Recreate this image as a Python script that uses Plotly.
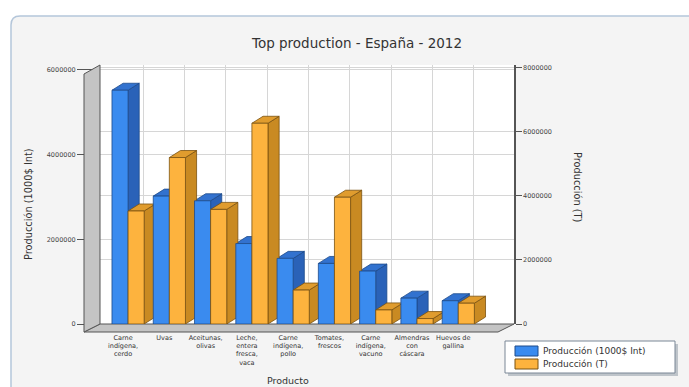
import plotly.graph_objects as go

productos = ["Carne<br>indígena,<br>cerdo", "Uvas", "Aceitunas,<br>olivas",
             "Leche,<br>entera<br>fresca,<br>vaca", "Carne<br>indígena,<br>pollo",
             "Tomates,<br>frescos", "Carne<br>indígena,<br>vacuno",
             "Almendras<br>con<br>cáscara", "Huevos de<br>gallina"]
valor_1000usd = [5520000, 3020000, 2910000, 1900000, 1550000, 1430000, 1250000, 610000, 550000]
toneladas = [3530000, 5200000, 3580000, 6270000, 1060000, 3960000, 440000, 170000, 650000]
left_ticks = [0, 2000000, 4000000, 6000000]
right_ticks = [0, 2000000, 4000000, 6000000, 8000000]
series_names = ["Producción (1000$ Int)", "Producción (T)"]

idx = list(range(len(productos)))

# layout geometry (pixels)
W, H = 689, 387
L, R, T, B = 100, 514, 65, 324
Y1MAX, Y2MAX = 6.116e6, 8.09e6
def px(x):
    return (x - L) / (R - L)
def py(y):
    return 1 - (y - T) / (B - T)

BLUE, BLUE_D, BLUE_T, BLUE_L = "#3a8bef", "#2a62b8", "#3272cf", "#1d4a8a"
ORG, ORG_D, ORG_T, ORG_L = "#fdb33e", "#c98a22", "#e09c2e", "#7a5210"
BW = 0.39
DX = 0.27

fig = go.Figure()
fig.add_trace(go.Bar(x=idx, y=valor_1000usd, name=series_names[0],
                     width=BW, offset=-BW, yaxis="y",
                     marker=dict(color=BLUE, line=dict(color=BLUE_L, width=0.8))))
fig.add_trace(go.Bar(x=idx, y=toneladas, name=series_names[1],
                     width=BW, offset=0, yaxis="y2",
                     marker=dict(color=ORG, line=dict(color=ORG_L, width=0.8))))

shapes = []
# panel background
x0p, y0p, x1p, y1p, r = 11, 16, 700, 400, 9
panel = (f"M {px(x0p)},{py(y0p + r)} Q {px(x0p)},{py(y0p)} {px(x0p + r)},{py(y0p)} "
         f"L {px(x1p)},{py(y0p)} L {px(x1p)},{py(y1p)} L {px(x0p)},{py(y1p)} Z")
shapes.append(dict(type="path", xref="paper", yref="paper", path=panel,
                   fillcolor="#f4f4f4", line=dict(color="#b4c6da", width=1.5), layer="below"))
# plot area back
shapes.append(dict(type="rect", xref="paper", yref="paper", x0=0, x1=1, y0=0, y1=1,
                   fillcolor="white", line=dict(width=0), layer="below"))
# left wall and floor
wall = f"M {px(84)},{py(74)} L {px(100)},{py(65)} L {px(100)},{py(324)} L {px(84)},{py(332)} Z"
shapes.append(dict(type="path", xref="paper", yref="paper", path=wall,
                   fillcolor="#c4c4c4", line=dict(color="#555", width=1), layer="above"))
floor = f"M {px(84)},{py(332)} L {px(100)},{py(324)} L {px(514)},{py(324)} L {px(498)},{py(332)} Z"
shapes.append(dict(type="path", xref="paper", yref="paper", path=floor,
                   fillcolor="#c4c4c4", line=dict(color="#555", width=1), layer="below"))

# legend box (drawn manually for compact spacing)
shapes.append(dict(type="rect", xref="paper", yref="paper",
                   x0=px(508), x1=px(678), y0=py(376), y1=py(344),
                   fillcolor="#9aa3ad", line=dict(width=0), layer="above", opacity=0.6))
shapes.append(dict(type="rect", xref="paper", yref="paper",
                   x0=px(505), x1=px(675), y0=py(373), y1=py(341),
                   fillcolor="white", line=dict(color="#7a8796", width=1), layer="above"))
for k, (c, lc) in enumerate([(BLUE, BLUE_L), (ORG, ORG_L)]):
    yc = 351 + 13 * k
    shapes.append(dict(type="rect", xref="paper", yref="paper",
                       x0=px(515), x1=px(538), y0=py(yc + 5), y1=py(yc - 5),
                       fillcolor=c, line=dict(color=lc, width=1), layer="above"))

# depth faces for the bars (orange values mapped onto the left-axis scale)
def faces(vals, x0off, side, top, edge):
    out = []
    dy = 7 / ((B - T) / Y1MAX)
    for i, v in enumerate(vals):
        a = i + x0off
        b = a + BW
        out.append(dict(type="path", xref="x", yref="y", layer="between",
                        path=f"M {b},0 L {b + DX},{dy} L {b + DX},{v + dy} L {b},{v} Z",
                        fillcolor=side, line=dict(color=edge, width=0.8)))
        out.append(dict(type="path", xref="x", yref="y", layer="between",
                        path=f"M {a},{v} L {a + DX},{v + dy} L {b + DX},{v + dy} L {b},{v} Z",
                        fillcolor=top, line=dict(color=edge, width=0.8)))
    return out

shapes += faces(valor_1000usd, -BW, BLUE_D, BLUE_T, BLUE_L)
shapes += faces([v * Y1MAX / Y2MAX for v in toneladas], 0, ORG_D, ORG_T, ORG_L)

font = "DejaVu Sans"
annotations = [
    dict(text="Producción (1000$ Int)", x=px(28), y=py(204), xref="paper", yref="paper",
         xanchor="center", yanchor="middle",
         textangle=-90, showarrow=False, font=dict(family=font, size=9.8, color="#333")),
    dict(text="Producción (T)", x=px(578), y=py(187), xref="paper", yref="paper",
         xanchor="center", yanchor="middle",
         textangle=90, showarrow=False, font=dict(family=font, size=9.8, color="#333")),
    dict(text="Producto", x=px(288), y=py(380), xref="paper", yref="paper",
         xanchor="center", yanchor="middle",
         showarrow=False, font=dict(family=font, size=9.5, color="#333")),
]
for k, nm in enumerate(series_names):
    annotations.append(dict(text=nm, x=px(541), y=py(351 + 13 * k), xref="paper", yref="paper",
                            xanchor="left", yanchor="middle", showarrow=False,
                            font=dict(family=font, size=9, color="#333")))

fig.update_layout(
    width=W, height=H,
    margin=dict(l=L, r=W - R, t=T, b=H - B, autoexpand=False),
    paper_bgcolor="white", plot_bgcolor="white",
    title=dict(text="Top production - España - 2012", x=357 / W, xanchor="center",
               y=1 - 43 / H, yanchor="middle",
               font=dict(family=font, size=13.5, color="#333")),
    showlegend=False,
    xaxis=dict(range=[-0.68, 9.35], tickvals=idx, ticktext=productos,
               showgrid=False, zeroline=False, showline=False, ticks="",
               tickfont=dict(family=font, size=6.5, color="#333"),
               ticklabelstandoff=8, ticklabelshift=-5,
               minor=dict(tickvals=[i + 0.37 for i in idx], showgrid=True,
                          gridcolor="#d6d6d6", gridwidth=1, ticks="")),
    yaxis=dict(range=[0, Y1MAX], tickvals=left_ticks, ticktext=[str(v) for v in left_ticks],
               showgrid=True, gridcolor="#d6d6d6", zeroline=False, showline=False,
               ticks="outside", ticklen=22, tickcolor="#555",
               tickfont=dict(family=font, size=6.5, color="#444")),
    yaxis2=dict(range=[0, Y2MAX], tickvals=right_ticks, ticktext=[str(v) for v in right_ticks],
                overlaying="y", side="right", showgrid=True, gridcolor="#d6d6d6",
                zeroline=False, showline=True, linecolor="#555", linewidth=1.5,
                ticks="outside", ticklen=6, tickcolor="#555",
                tickfont=dict(family=font, size=6.5, color="#444")),
    shapes=shapes,
    annotations=annotations,
    barmode="overlay",
)

fig.write_html("out.html")
